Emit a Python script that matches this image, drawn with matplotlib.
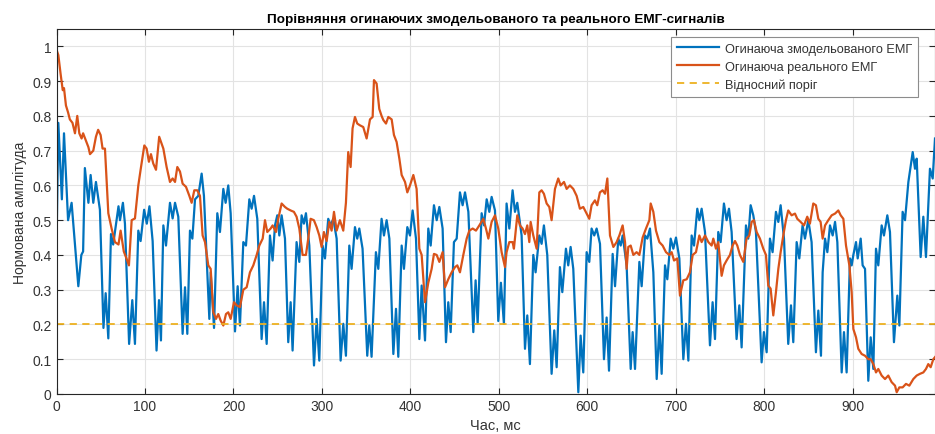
import matplotlib.pyplot as plt

# Огинаюча змодельованого ЕМГ (час, мс / нормована амплітуда)
t_sim = [0, 2, 6, 8.4, 13, 17, 24.6, 28, 30, 32, 36, 38.5, 41.5, 44.5, 49, 53, 55.5, 58.5, 61.5, 64,
         70, 71.7, 75, 77.3, 82, 85.6, 88.6, 92.4, 95, 99, 102, 105, 108.6, 113, 115.8, 118, 120.7,
         123.7, 128.2, 131.2, 133.9, 137.6, 142.5, 145.2, 147.8, 150.8, 153.5, 156.5, 160.2, 164,
         166.6, 172.7, 174.2, 178, 181.7, 184.7, 188.5, 191.1, 194.1, 196.8, 201.7, 204.7, 207.3,
         211.1, 214.1, 217.9, 220.5, 223.2, 226.9, 231.8, 234.5, 237.5, 241.2, 244.2, 246.9, 249.5,
         251.8, 254.4, 258.2, 261.9, 264.6, 266.8, 271.3, 274.4, 277, 279.6, 281.9, 285.7, 291, 294,
         297, 300.7, 303.4, 307.1, 309.8, 312.8, 316.6, 321.1, 324.1, 327.1, 330.9, 333.5, 337.3,
         339.9, 342.2, 345.9, 351.2, 353.5, 356.1, 361, 363.7, 367.4, 370.1, 373.1, 376.2, 380.7,
         383.7, 386.3, 390.1, 392.7, 396.5, 399.5, 402.5, 406.3, 410.1, 412.7, 416.5, 420.2, 422.9,
         426.6, 429.7, 432.7, 436.4, 440.2, 442.8, 445.5, 449.2, 452.3, 456, 459, 461.7, 465.5,
         471.1, 473.7, 476, 480.5, 483.2, 486.2, 489.2, 491.8, 495.6, 499.3, 502.3, 505.7, 508.7,
         511.8, 515.5, 518.2, 520.8, 525.7, 529.5, 532.1, 535.1, 538.9, 541.5, 545.7, 548.3, 550.9,
         554.7, 559.6, 562.6, 565.3, 569, 571.7, 575.8, 578.4, 581.1, 584.1, 589.8, 592.4, 595.4,
         599.2, 602.2, 604.8, 607.8, 610.5, 614.3, 618.8, 621.8, 624.5, 628.6, 631.3, 635, 637.7,
         639.9, 644.4, 649, 651.2, 653.9, 658.8, 661.4, 665.2, 667.8, 670.8, 674.6, 678.4, 681.4,
         684, 687.8, 690.4, 694.2, 697.2, 700.2, 704, 708.5, 711.5, 714.2, 717.9, 720.6, 724.3,
         726.6, 729.2, 733, 738.6, 741.6, 744.3, 748, 750.7, 754.4, 757.4, 760.1, 763.1, 768.7,
         771.8, 774.4, 779.3, 781.9, 784.6, 787.6, 790.6, 797, 799.6, 802.7, 806.4, 809.4, 813.2,
         815.9, 818.5, 822.3, 827.1, 830.2, 832.8, 836.6, 839.6, 843.3, 846, 849.8, 853.5, 858.4,
         861.1, 864.1, 866, 868.7, 871.3, 874.3, 877.3, 880, 882.6, 887.5, 890.1, 893.1, 896.9,
         898.8, 900.7, 903.7, 905.6, 909, 911.2, 913.9, 917.6, 920.3, 923.3, 926.3, 928.9, 932.7,
         935.3, 939.1, 942.1, 946.6, 950.4, 952.7, 956.4, 959.1, 962.9, 967.8, 970.4, 972.3, 976.8,
         979.8, 982.8, 987.3, 990.4, 993]
v_sim = [0.43, 0.78, 0.56, 0.75, 0.50, 0.55, 0.31, 0.40, 0.41, 0.65, 0.55, 0.63, 0.55, 0.61, 0.53,
         0.19, 0.29, 0.16, 0.46, 0.43, 0.54, 0.50, 0.55, 0.49, 0.144, 0.27, 0.144, 0.47, 0.44, 0.53,
         0.49, 0.54, 0.44, 0.125, 0.27, 0.154, 0.485, 0.427, 0.55, 0.505, 0.55, 0.51, 0.173, 0.307,
         0.173, 0.47, 0.447, 0.56, 0.57, 0.634, 0.57, 0.216, 0.35, 0.19, 0.52, 0.466, 0.59, 0.55,
         0.60, 0.52, 0.18, 0.31, 0.197, 0.437, 0.427, 0.56, 0.533, 0.57, 0.504, 0.158, 0.264, 0.144,
         0.456, 0.384, 0.485, 0.514, 0.456, 0.514, 0.447, 0.149, 0.264, 0.125, 0.437, 0.38, 0.514,
         0.49, 0.52, 0.427, 0.082, 0.216, 0.096, 0.427, 0.39, 0.504, 0.485, 0.504, 0.447, 0.096,
         0.202, 0.11, 0.427, 0.36, 0.48, 0.447, 0.476, 0.418, 0.11, 0.197, 0.107, 0.408, 0.36,
         0.504, 0.456, 0.50, 0.447, 0.115, 0.245, 0.107, 0.427, 0.36, 0.48, 0.456, 0.528, 0.447,
         0.158, 0.312, 0.154, 0.476, 0.427, 0.543, 0.50, 0.538, 0.476, 0.149, 0.264, 0.178, 0.437,
         0.447, 0.58, 0.543, 0.58, 0.524, 0.178, 0.327, 0.202, 0.52, 0.485, 0.56, 0.524, 0.567,
         0.528, 0.21, 0.32, 0.202, 0.548, 0.476, 0.586, 0.524, 0.55, 0.456, 0.13, 0.226, 0.086,
         0.40, 0.35, 0.456, 0.432, 0.485, 0.40, 0.058, 0.183, 0.077, 0.365, 0.293, 0.418, 0.37,
         0.423, 0.36, 0.005, 0.168, 0.062, 0.408, 0.38, 0.476, 0.456, 0.476, 0.432, 0.10, 0.22,
         0.067, 0.403, 0.31, 0.447, 0.427, 0.456, 0.37, 0.072, 0.178, 0.072, 0.38, 0.31, 0.456,
         0.447, 0.476, 0.35, 0.043, 0.197, 0.058, 0.37, 0.33, 0.447, 0.418, 0.45, 0.39, 0.10, 0.202,
         0.096, 0.456, 0.427, 0.533, 0.50, 0.533, 0.466, 0.14, 0.264, 0.158, 0.466, 0.437, 0.548,
         0.50, 0.533, 0.466, 0.158, 0.255, 0.134, 0.485, 0.447, 0.543, 0.514, 0.466, 0.091, 0.178,
         0.12, 0.447, 0.408, 0.524, 0.495, 0.543, 0.447, 0.144, 0.255, 0.149, 0.437, 0.39, 0.485,
         0.447, 0.50, 0.437, 0.12, 0.24, 0.11, 0.35, 0.447, 0.408, 0.485, 0.456, 0.495, 0.437, 0.062,
         0.178, 0.062, 0.39, 0.37, 0.40, 0.437, 0.39, 0.447, 0.37, 0.36, 0.038, 0.163, 0.072, 0.418,
         0.37, 0.485, 0.456, 0.514, 0.466, 0.149, 0.283, 0.197, 0.524, 0.50, 0.61, 0.696, 0.648,
         0.677, 0.394, 0.51, 0.394, 0.648, 0.62, 0.735]

# Огинаюча реального ЕМГ
t_real = [0, 2, 4.6, 7, 8.4, 10.6, 13, 15, 18, 20.8, 23.4, 25.7, 28.3, 30, 33, 36, 37.8, 41.5, 44.5,
          47, 49.8, 52, 54.7, 58.5, 62.3, 66, 70, 72.4, 76, 79, 81.8, 84.9, 88.6, 92.4, 95, 99.2,
          101.8, 104.4, 106.7, 109.3, 112.4, 116, 120.7, 124.4, 128.2, 131.2, 133.9, 136.5, 139.5,
          142.5, 146.3, 150.1, 152.7, 155.7, 159.1, 162.1, 165.1, 167.8, 171.5, 174.2, 177.2, 180.2,
          182.8, 185.5, 188.5, 191.5, 194.1, 196.8, 200.5, 203.6, 207.3, 211.1, 214.9, 218.6, 222.4,
          226.2, 229.2, 233, 235.6, 238.2, 242, 244.2, 248, 250.6, 254.4, 258.2, 260.8, 264.6,
          268.3, 271.3, 274.4, 278.1, 281.9, 284.5, 287.2, 290.9, 294, 297, 299.6, 302.2, 305.3,
          308.3, 310.9, 313.6, 316.6, 320.3, 324.1, 327.1, 329.7, 332.4, 334.6, 337.3, 339.9, 342.9,
          346.7, 350.5, 354.3, 357.3, 358.8, 361.8, 364.8, 367.4, 369.4, 372.4, 375, 378.8, 381.4,
          384.4, 387.5, 390.1, 393.9, 396.5, 399.5, 403.3, 407, 410.1, 412.7, 416.5, 420.2, 424,
          426.6, 429.7, 432.7, 436.4, 439.1, 442.8, 446.6, 450.4, 453, 456, 459.8, 463.6, 466.6,
          470.4, 474.1, 477.9, 482.4, 485.4, 488.1, 491.8, 495.6, 499.3, 503.1, 506.9, 508.7, 511.8,
          515.5, 517, 520.8, 523.8, 526.8, 529.5, 532.1, 534.4, 535.9, 538.9, 542.7, 545.7, 548.3,
          550.9, 554, 557, 559.6, 563.4, 567.1, 569.8, 573.6, 576.6, 580.3, 584.1, 587.9, 591.6,
          595.4, 599.2, 602.2, 604.8, 608.6, 611.2, 614.2, 617.3, 620, 622.6, 625.6, 629.4, 633.1,
          636.2, 639.9, 642.6, 644.4, 646.3, 649, 652, 655.7, 658.8, 662.5, 666.3, 670.1, 671.6,
          674.6, 677.6, 681.4, 685.1, 688.9, 692.7, 695.3, 698, 701.7, 704.7, 708.5, 712.3, 716,
          719.1, 722.8, 726.6, 729.2, 733, 736.8, 740.5, 742.4, 745.4, 748, 751.8, 754.4, 757.4,
          761.2, 764.2, 766.9, 769.5, 772.5, 776.3, 780, 783.1, 785.7, 788.3, 791.4, 795.1, 798.9,
          801.9, 804.5, 807.2, 810.2, 813.2, 815.9, 818.5, 821.5, 824.5, 827.1, 830.9, 834.7, 837.3,
          841.1, 844.9, 848.6, 851.6, 855.4, 858.4, 861.1, 863.7, 866, 868.7, 872.4, 876.2, 880,
          883.7, 886.4, 889.4, 892.4, 896.2, 898.8, 900.7, 903.7, 906.3, 910.1, 913.9, 917.6, 920.3,
          923.3, 926.3, 928.9, 932.7, 936.5, 940.2, 944, 947.8, 949.7, 952.7, 956.4, 960.2, 964,
          968.5, 972.3, 976, 979.8, 982.8, 985.4, 988.1, 991.1, 993]
v_real = [0.99, 0.975, 0.92, 0.874, 0.88, 0.83, 0.81, 0.79, 0.78, 0.75, 0.80, 0.75, 0.735, 0.75, 0.73,
          0.71, 0.69, 0.70, 0.74, 0.76, 0.745, 0.706, 0.706, 0.52, 0.475, 0.437, 0.43, 0.47, 0.41,
          0.39, 0.37, 0.50, 0.505, 0.60, 0.645, 0.715, 0.706, 0.668, 0.69, 0.663, 0.645, 0.74,
          0.706, 0.653, 0.61, 0.62, 0.61, 0.653, 0.64, 0.605, 0.596, 0.57, 0.55, 0.586, 0.586, 0.57,
          0.456, 0.437, 0.37, 0.36, 0.235, 0.216, 0.23, 0.211, 0.197, 0.23, 0.235, 0.216, 0.264,
          0.255, 0.25, 0.30, 0.307, 0.35, 0.37, 0.40, 0.427, 0.447, 0.50, 0.466, 0.476, 0.485,
          0.466, 0.504, 0.548, 0.538, 0.533, 0.528, 0.524, 0.51, 0.476, 0.40, 0.40, 0.447, 0.504,
          0.50, 0.48, 0.456, 0.423, 0.466, 0.44, 0.495, 0.47, 0.524, 0.47, 0.50, 0.47, 0.55, 0.696,
          0.653, 0.764, 0.797, 0.778, 0.773, 0.768, 0.735, 0.79, 0.797, 0.903, 0.893, 0.82, 0.80,
          0.788, 0.778, 0.797, 0.79, 0.745, 0.725, 0.677, 0.63, 0.61, 0.58, 0.60, 0.63, 0.59, 0.418,
          0.40, 0.264, 0.32, 0.36, 0.403, 0.40, 0.38, 0.408, 0.307, 0.33, 0.35, 0.365, 0.37, 0.35,
          0.40, 0.447, 0.47, 0.476, 0.47, 0.485, 0.504, 0.476, 0.447, 0.495, 0.514, 0.476, 0.408,
          0.365, 0.408, 0.437, 0.437, 0.418, 0.514, 0.485, 0.476, 0.46, 0.485, 0.437, 0.495, 0.456,
          0.418, 0.58, 0.586, 0.576, 0.548, 0.538, 0.50, 0.59, 0.62, 0.60, 0.61, 0.59, 0.60, 0.59,
          0.57, 0.533, 0.538, 0.519, 0.504, 0.543, 0.557, 0.543, 0.58, 0.586, 0.576, 0.62, 0.456,
          0.423, 0.437, 0.456, 0.485, 0.437, 0.36, 0.423, 0.427, 0.40, 0.408, 0.40, 0.45, 0.476,
          0.50, 0.548, 0.524, 0.47, 0.437, 0.427, 0.408, 0.40, 0.408, 0.384, 0.39, 0.283, 0.327,
          0.33, 0.35, 0.40, 0.408, 0.456, 0.437, 0.456, 0.437, 0.427, 0.447, 0.418, 0.437, 0.34,
          0.37, 0.384, 0.40, 0.427, 0.44, 0.427, 0.40, 0.38, 0.447, 0.456, 0.495, 0.50, 0.466,
          0.447, 0.418, 0.40, 0.312, 0.303, 0.226, 0.293, 0.36, 0.408, 0.456, 0.50, 0.528, 0.514,
          0.519, 0.504, 0.495, 0.485, 0.51, 0.49, 0.548, 0.543, 0.504, 0.495, 0.447, 0.485, 0.50,
          0.514, 0.519, 0.528, 0.514, 0.504, 0.427, 0.37, 0.293, 0.187, 0.163, 0.13, 0.115, 0.11,
          0.10, 0.10, 0.086, 0.062, 0.072, 0.053, 0.043, 0.053, 0.034, 0.024, 0.005, 0.019, 0.019,
          0.029, 0.024, 0.043, 0.053, 0.058, 0.062, 0.072, 0.086, 0.077, 0.10, 0.106]

threshold = 0.2
x_ticks = [0, 100, 200, 300, 400, 500, 600, 700, 800, 900]
y_ticks = [0, 0.1, 0.2, 0.3, 0.4, 0.5, 0.6, 0.7, 0.8, 0.9, 1]
y_tick_labels = ['0', '0.1', '0.2', '0.3', '0.4', '0.5', '0.6', '0.7', '0.8', '0.9', '1']

plt.rcParams['font.family'] = ['Liberation Sans', 'DejaVu Sans']

fig = plt.figure(figsize=(9.35, 4.35), dpi=100)
ax = fig.add_axes([0.0605, 0.092, 0.9395, 0.839])

ax.plot(t_sim, v_sim, color='#0072BD', lw=1.6, label='Огинаюча змодельованого ЕМГ')
ax.plot(t_real, v_real, color='#D95319', lw=1.6, label='Огинаюча реального ЕМГ')
ax.axhline(threshold, color='#EDB120', lw=1.3, ls=(0, (4, 3)), label='Відносний поріг')

ax.set_xlim(0, 993)
ax.set_ylim(0, 1.05)
ax.set_xticks(x_ticks)
ax.set_yticks(y_ticks)
ax.set_yticklabels(y_tick_labels)
ax.tick_params(direction='in', length=4, colors='#262626', labelsize=10,
               top=True, right=True, labelcolor='#333333')
ax.grid(True, color='#e3e3e3', lw=0.8)
ax.set_axisbelow(True)
for s in ax.spines.values():
    s.set_color('#262626')
    s.set_linewidth(0.8)

ax.set_title('Порівняння огинаючих змодельованого та реального ЕМГ-сигналів',
             fontsize=9.7, fontweight='bold', pad=5)
ax.set_xlabel('Час, мс', fontsize=10.5, color='#333333', labelpad=4)
ax.set_ylabel('Нормована амплітуда', fontsize=10, color='#333333', labelpad=4)

leg = ax.legend(loc='upper right', bbox_to_anchor=(0.981, 0.978), fontsize=9.2,
                handlelength=3.3, framealpha=1, fancybox=False, edgecolor='#8c8c8c',
                borderpad=0.45, labelspacing=0.45, handletextpad=0.5, borderaxespad=0)
leg.get_frame().set_linewidth(0.8)
for txt in leg.get_texts():
    txt.set_color('#333333')

fig.savefig('out.png', dpi=100)
